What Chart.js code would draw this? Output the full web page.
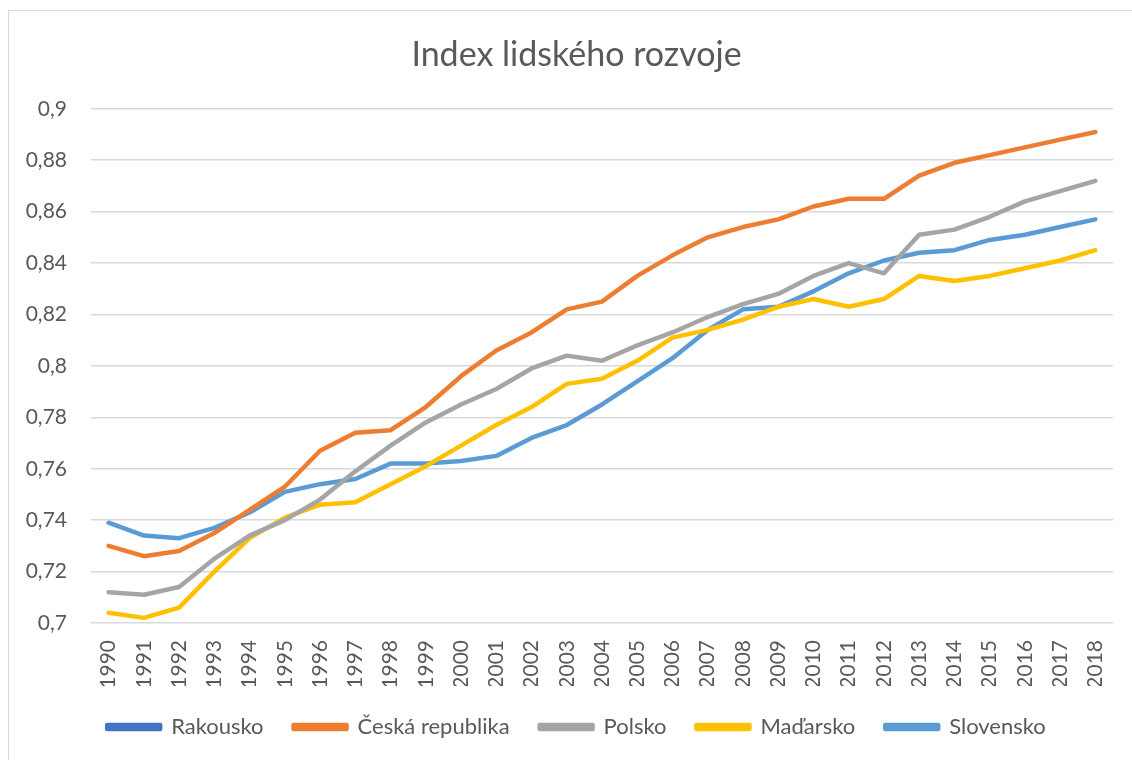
<!DOCTYPE html>
<html>
<head>
<meta charset="utf-8">
<script src="https://cdn.jsdelivr.net/npm/chart.js@4/dist/chart.umd.min.js"></script>
<style>
    html, body { margin: 0; padding: 0; background: #fff; }
    #frame {
        position: absolute; left: 8px; top: 10px; width: 1140px; height: 770px;
        border-left: 1px solid #d9d9d9; border-top: 1px solid #d9d9d9;
    }
    #wrap { position: absolute; left: 0; top: 0; width: 1132px; height: 760px; }
</style>
</head>
<body>
<div id="frame"></div>
<div id="wrap"><canvas id="hdi-chart" width="1132" height="760"></canvas></div>
<script>
// Years on the category axis
const years = ['1990', '1991', '1992', '1993', '1994', '1995', '1996', '1997', '1998', '1999',
    '2000', '2001', '2002', '2003', '2004', '2005', '2006', '2007', '2008', '2009',
    '2010', '2011', '2012', '2013', '2014', '2015', '2016', '2017', '2018'];

// HDI values (Rakousko has no line drawn)
const rakousko = [];
const ceskaRepublika = [0.730, 0.726, 0.728, 0.735, 0.744, 0.753, 0.767, 0.774, 0.775, 0.784,
    0.796, 0.806, 0.813, 0.822, 0.825, 0.835, 0.843, 0.850, 0.854, 0.857,
    0.862, 0.865, 0.865, 0.874, 0.879, 0.882, 0.885, 0.888, 0.891];
const polsko = [0.712, 0.711, 0.714, 0.725, 0.734, 0.740, 0.748, 0.759, 0.769, 0.778,
    0.785, 0.791, 0.799, 0.804, 0.802, 0.808, 0.813, 0.819, 0.824, 0.828,
    0.835, 0.840, 0.836, 0.851, 0.853, 0.858, 0.864, 0.868, 0.872];
const madarsko = [0.704, 0.702, 0.706, 0.720, 0.733, 0.741, 0.746, 0.747, 0.754, 0.761,
    0.769, 0.777, 0.784, 0.793, 0.795, 0.802, 0.811, 0.814, 0.818, 0.823,
    0.826, 0.823, 0.826, 0.835, 0.833, 0.835, 0.838, 0.841, 0.845];
const slovensko = [0.739, 0.734, 0.733, 0.737, 0.743, 0.751, 0.754, 0.756, 0.762, 0.762,
    0.763, 0.765, 0.772, 0.777, 0.785, 0.794, 0.803, 0.814, 0.822, 0.823,
    0.829, 0.836, 0.841, 0.844, 0.845, 0.849, 0.851, 0.854, 0.857];

// Y axis range
const yMin = 0.7;
const yMax = 0.9;
const yStep = 0.02;

const textColor = '#595959';
const fontFamily = 'Lato, "Open Sans", sans-serif';

// Function to build one line dataset
function makeLine(label, data, color) {
    return {
        label: label,
        data: data,
        borderColor: color,
        backgroundColor: color,
        borderWidth: 4.5,
        borderCapStyle: 'round',
        borderJoinStyle: 'round',
        pointRadius: 0,
        pointHoverRadius: 0,
        tension: 0,
        fill: false
    };
}

// Nudge title and legend to the right, the chart frame is wider than the window
const shiftBlocks = {
    id: 'shiftBlocks',
    afterLayout(chart) {
        [chart.titleBlock, chart.legend].forEach(block => {
            if (block) {
                block.left += 20;
                block.right += 20;
            }
        });
    }
};

const ctx = document.querySelector('#hdi-chart').getContext('2d');

new Chart(ctx, {
    type: 'line',
    data: {
        labels: years,
        datasets: [
            makeLine('Rakousko', rakousko, '#4472C4'),
            makeLine('Česká republika', ceskaRepublika, '#ED7D31'),
            makeLine('Polsko', polsko, '#A5A5A5'),
            makeLine('Maďarsko', madarsko, '#FFC000'),
            makeLine('Slovensko', slovensko, '#5B9BD5')
        ]
    },
    plugins: [shiftBlocks],
    options: {
        responsive: false,
        animation: false,
        layout: { padding: { left: 0, right: 19, top: 0, bottom: 12 } },
        plugins: {
            title: {
                display: true,
                text: 'Index lidského rozvoje',
                color: textColor,
                font: { family: fontFamily, size: 34, weight: 'normal' },
                padding: { top: 35, bottom: 33 }
            },
            legend: {
                position: 'bottom',
                labels: {
                    color: textColor,
                    font: { family: fontFamily, size: 22 },
                    boxWidth: 53,
                    boxHeight: 4,
                    padding: 30
                }
            },
            tooltip: { enabled: false }
        },
        scales: {
            x: {
                offset: true,
                grid: { display: false },
                border: { display: false },
                ticks: {
                    color: textColor,
                    font: { family: fontFamily, size: 21 },
                    minRotation: 90,
                    maxRotation: 90,
                    autoSkip: false,
                    padding: 9
                },
                afterFit: scale => { scale.height = 63; }
            },
            y: {
                min: yMin,
                max: yMax,
                grid: { color: '#d9d9d9', lineWidth: 1.5, drawTicks: false },
                border: { display: false },
                ticks: {
                    stepSize: yStep,
                    color: textColor,
                    font: { family: fontFamily, size: 21 },
                    padding: 24,
                    callback: value => String(Math.round(value * 100) / 100).replace('.', ',')
                },
                afterFit: scale => { scale.width = 91; }
            }
        }
    }
});
</script>
</body>
</html>
